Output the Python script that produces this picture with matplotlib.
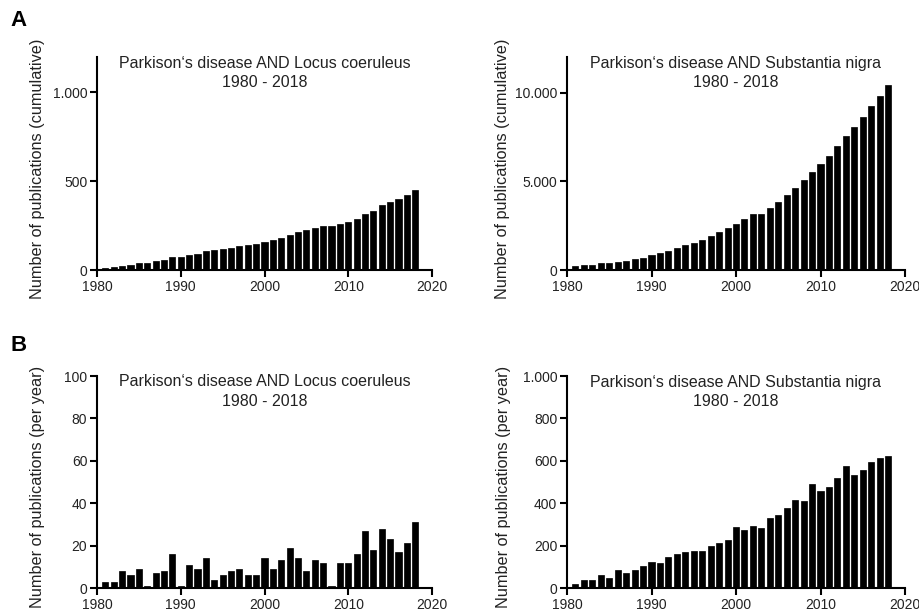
import numpy as np
import matplotlib
matplotlib.use("Agg")
import matplotlib.pyplot as plt
from matplotlib.ticker import FuncFormatter

plt.rcParams["font.family"] = ["Liberation Sans", "DejaVu Sans"]

years = np.arange(1981, 2019)

# cumulative counts
lc_cumulative = [11, 15, 25, 30, 40, 40, 49, 57, 72, 72,
                 83, 91, 108, 113, 117, 126, 134, 140, 145, 160,
                 170, 181, 200, 215, 223, 236, 247, 247, 260, 272,
                 289, 317, 334, 364, 385, 400, 423, 453]
sn_cumulative = [226, 264, 301, 377, 414, 471, 527, 603, 697, 828,
                 941, 1073, 1243, 1394, 1544, 1713, 1920, 2127, 2352, 2597,
                 2898, 3180, 3180, 3500, 3858, 4234, 4629, 5043, 5532, 5964,
                 6434, 6961, 7526, 8052, 8617, 9219, 9802, 10404]

# per-year counts
lc_per_year = [3, 3, 8, 6, 9, 1, 7, 8, 16, 1,
               11, 9, 14, 4, 6, 8, 9, 6, 6, 14,
               9, 13, 19, 14, 8, 13, 12, 1, 12, 12,
               16, 27, 18, 28, 23, 17, 21, 31]
sn_per_year = [20, 37, 37, 62, 48, 83, 70, 83, 103, 123,
               116, 147, 162, 169, 173, 173, 197, 214, 228, 286,
               275, 294, 283, 331, 345, 377, 416, 409, 489, 456,
               478, 520, 577, 533, 558, 592, 613, 623]

titles = ["Parkison\u2018s disease AND Locus coeruleus\n1980 - 2018",
          "Parkison\u2018s disease AND Substantia nigra\n1980 - 2018"]

W, H = 919, 613
fig = plt.figure(figsize=(W / 100, H / 100), dpi=100)


def px_axes(x0, x1, ytop, ybot):
    return fig.add_axes([x0 / W, 1 - ybot / H, (x1 - x0) / W, (ybot - ytop) / H])


thousands = FuncFormatter(lambda v, pos: f"{int(v):,}".replace(",", "."))


def style(ax, values, title, ylim, yticks, ylabel, labx):
    ax.bar(years, values, width=0.72, color="black", edgecolor="black", linewidth=0.5)
    ax.set_xlim(1980, 2020)
    ax.set_ylim(0, ylim)
    ax.set_xticks([1980, 1990, 2000, 2010, 2020])
    ax.set_yticks(yticks)
    ax.yaxis.set_major_formatter(thousands)
    for s in ["top", "right"]:
        ax.spines[s].set_visible(False)
    for s in ["left", "bottom"]:
        ax.spines[s].set_linewidth(1.5)
    ax.tick_params(direction="out", length=5, width=1.5, labelsize=10, pad=2,
                   colors="black", labelcolor="#222222")
    ax.set_ylabel(ylabel, fontsize=11.7, color="#222222")
    ax.yaxis.set_label_coords(labx, 0.477)
    ax.text(0.5, 0.925, title, transform=ax.transAxes, ha="center", va="center",
            fontsize=11.5, linespacing=1.4, color="#222222")


ax1 = px_axes(97, 432, 57, 270)
style(ax1, lc_cumulative, titles[0], 1200, [0, 500, 1000],
      "Number of publications (cumulative)", -0.155)
ax2 = px_axes(567, 905, 57, 270)
style(ax2, sn_cumulative, titles[1], 12000, [0, 5000, 10000],
      "Number of publications (cumulative)", -0.168)
ax3 = px_axes(97, 432, 376, 588)
style(ax3, lc_per_year, titles[0], 100, [0, 20, 40, 60, 80, 100],
      "Number of publications (per year)", -0.155)
ax4 = px_axes(567, 905, 376, 588)
style(ax4, sn_per_year, titles[1], 1000, [0, 200, 400, 600, 800, 1000],
      "Number of publications (per year)", -0.165)

fig.text(10 / W, 1 - 21 / H, "A", fontsize=16, fontweight="bold", va="center", ha="left")
fig.text(10 / W, 1 - 345 / H, "B", fontsize=16, fontweight="bold", va="center", ha="left")

fig.savefig("out.png", dpi=100)
